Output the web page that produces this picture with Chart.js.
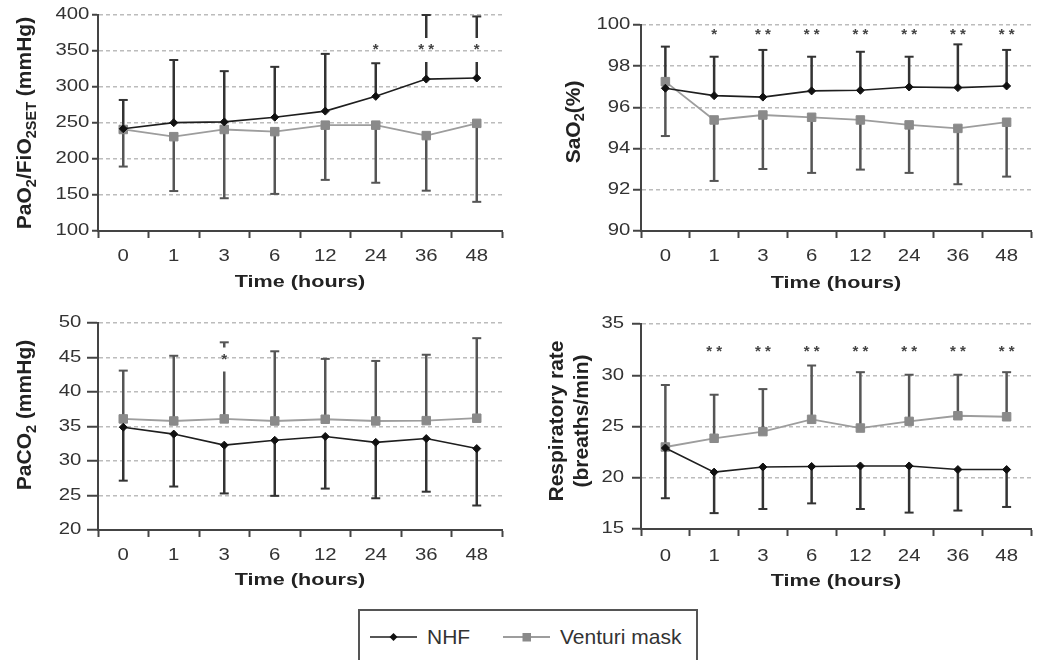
<!DOCTYPE html>
<html><head><meta charset="utf-8">
<script src="https://cdn.jsdelivr.net/npm/chart.js@4.4.1/dist/chart.umd.min.js"></script>
<style>
html,body{margin:0;padding:0;background:#fff;}
body{width:1038px;height:660px;position:relative;overflow:hidden;font-family:"Liberation Sans",Arial,sans-serif;}
canvas{position:absolute;}
#legend{position:absolute;left:358px;top:609px;width:336px;height:60px;border:2px solid #555;}
.lt{position:absolute;font-size:21px;line-height:24px;color:#333;white-space:nowrap;}
svg{position:absolute;}
</style></head><body>
<canvas id="c1" width="520" height="300" style="left:0;top:0;width:520px;height:300px"></canvas>
<canvas id="c2" width="518" height="300" style="left:520px;top:0;width:518px;height:300px"></canvas>
<canvas id="c3" width="520" height="300" style="left:0;top:300px;width:520px;height:300px"></canvas>
<canvas id="c4" width="518" height="300" style="left:520px;top:300px;width:518px;height:300px"></canvas>
<div id="legend"></div>
<svg style="left:368px;top:627px" width="54" height="20"><line x1="2" y1="10" x2="49" y2="10" stroke="#1e1e1e" stroke-width="1.6"/><polygon points="25.5,6 29.5,10 25.5,14 21.5,10" fill="#111"/></svg>
<div class="lt" style="left:427px;top:625px">NHF</div>
<svg style="left:501px;top:627px" width="54" height="20"><line x1="2" y1="10" x2="49" y2="10" stroke="#9d9d9d" stroke-width="1.8"/><rect x="21.5" y="6" width="8.5" height="8.5" fill="#8a8a8a"/></svg>
<div class="lt" style="left:560px;top:625px">Venturi mask</div>
<script>
// ---------- data ----------
const hours = ['0', '1', '3', '6', '12', '24', '36', '48'];

// PaO2/FiO2SET (mmHg)
const pafTicks = [100, 150, 200, 250, 300, 350, 400];
const pafNhf = [242, 250.5, 251.5, 258, 266.5, 287, 311, 312.5];
const pafNhfHigh = [282, 337.5, 322, 328, 346, 333, 400, 398];
const pafVent = [241, 231, 241, 238, 247, 247, 232.5, 249.5];
const pafVentLow = [189.5, 155.5, 145.5, 151.5, 171, 167, 156, 140.5];
const pafStars = ['', '', '', '', '', '*', '**', '*'];
const pafStarLevel = 357;

// SaO2 (%)
const saoTicks = [90, 92, 94, 96, 98, 100];
const saoNhf = [96.93, 96.57, 96.5, 96.8, 96.83, 96.99, 96.96, 97.04];
const saoNhfHigh = [98.95, 98.46, 98.79, 98.46, 98.7, 98.46, 99.06, 98.79];
const saoVent = [97.25, 95.39, 95.63, 95.52, 95.39, 95.15, 94.98, 95.28];
const saoVentLow = [94.61, 92.43, 93.01, 92.82, 92.98, 92.82, 92.27, 92.64];
const saoStars = ['', '*', '**', '**', '**', '**', '**', '**'];
const saoStarLevel = 99.72;

// PaCO2 (mmHg)
const pacTicks = [20, 25, 30, 35, 40, 45, 50];
const pacNhf = [34.9, 33.9, 32.3, 33.0, 33.55, 32.7, 33.25, 31.8];
const pacNhfLow = [27.15, 26.3, 25.3, 24.95, 26.0, 24.6, 25.55, 23.55];
const pacVent = [36.1, 35.8, 36.1, 35.8, 36.05, 35.8, 35.85, 36.2];
const pacVentHigh = [43.1, 45.25, 47.2, 45.9, 44.8, 44.5, 45.4, 47.8];
const pacStars = ['', '', '*', '', '', '', '', ''];
const pacStarLevel = 45.3;

// Respiratory rate (breaths/min)
const rrTicks = [15, 20, 25, 30, 35];
const rrNhf = [22.9, 20.55, 21.05, 21.1, 21.15, 21.15, 20.8, 20.8];
const rrNhfLow = [18.0, 16.55, 16.95, 17.5, 16.95, 16.6, 16.8, 17.15];
const rrVent = [23.0, 23.85, 24.5, 25.7, 24.85, 25.5, 26.05, 25.95];
const rrVentHigh = [29.05, 28.1, 28.65, 30.95, 30.3, 30.05, 30.05, 30.3];
const rrStars = ['', '**', '**', '**', '**', '**', '**', '**'];
const rrStarLevel = 32.73;

// ---------- text width tweak (small text drawn wider, like the source) ----------
const FONT = '"Liberation Sans", Arial, Helvetica, sans-serif';
let stretchOn = true;
const TEXT_SX = 1.27;
const _fill = CanvasRenderingContext2D.prototype.fillText;
CanvasRenderingContext2D.prototype.fillText = function (t, x, y, mw) {
  const m = /(\d+(?:\.\d+)?)px/.exec(this.font);
  const size = m ? parseFloat(m[1]) : 12;
  if (!stretchOn || size >= 19) {
    return mw === undefined ? _fill.call(this, t, x, y) : _fill.call(this, t, x, y, mw);
  }
  this.save();
  this.translate(x, y);
  this.scale(TEXT_SX, 1);
  _fill.call(this, t, 0, 0);
  this.restore();
};

Chart.defaults.font.family = FONT;

const NHF_COLOR = '#1e1e1e', VENT_LINE = '#9d9d9d', VENT_MARK = '#8a8a8a';

function makePanel(id, p) {
  const canvas = document.getElementById(id);
  const offX = parseFloat(canvas.style.left), offY = parseFloat(canvas.style.top);
  const decor = {
    id: 'decor' + id,
    beforeDatasetsDraw(chart) {
      const { ctx, scales: { x, y } } = chart;
      const sy = y.getPixelForValue(p.starLevel);
      p.bars.forEach(b => {
        ctx.save();
        ctx.strokeStyle = b.color;
        b.mean.forEach((m, i) => {
          const px = x.getPixelForValue(i);
          const a = y.getPixelForValue(m), e = y.getPixelForValue(b.end[i]);
          const top = Math.min(a, e), bot = Math.max(a, e);
          let segs = [[top, bot]];
          if (p.stars[i] && top < sy && bot > sy) segs = [[top, sy - 8], [sy + 16, bot]];
          ctx.lineWidth = 2.5;
          ctx.beginPath();
          segs.forEach(s => { if (s[1] > s[0]) { ctx.moveTo(px, s[0]); ctx.lineTo(px, s[1]); } });
          ctx.stroke();
          ctx.lineWidth = 2;
          ctx.beginPath();
          ctx.moveTo(px - 4.5, e); ctx.lineTo(px + 4.5, e);
          ctx.stroke();
        });
        ctx.restore();
      });
    },
    afterDraw(chart) {
      const { ctx, scales: { x, y } } = chart;
      ctx.save();
      stretchOn = false;
      // stars
      const sy = y.getPixelForValue(p.starLevel);
      ctx.font = 'bold 15px ' + FONT;
      ctx.fillStyle = '#444';
      ctx.textAlign = 'center';
      ctx.textBaseline = 'alphabetic';
      p.stars.forEach((s, i) => {
        const px = x.getPixelForValue(i);
        for (let k = 0; k < s.length; k++) {
          const dx = (k - (s.length - 1) / 2) * 10;
          ctx.fillText('*', px + dx, sy + 8.5);
        }
      });
      // y-axis title
      ctx.translate(0, p.title.cy - offY);
      ctx.rotate(-Math.PI / 2);
      ctx.fillStyle = '#222';
      ctx.textAlign = 'left';
      p.title.lines.forEach(line => {
        const ly = line.bx - offX;
        let w = 0;
        line.segs.forEach(s => {
          ctx.font = (s.sub ? 'bold 14.5px ' : 'bold 21px ') + FONT;
          s.w = ctx.measureText(s.t).width; w += s.w;
        });
        let lx = -w / 2;
        line.segs.forEach(s => {
          ctx.font = (s.sub ? 'bold 14.5px ' : 'bold 21px ') + FONT;
          ctx.fillText(s.t, lx, ly + (s.sub ? 4.5 : 0));
          lx += s.w;
        });
      });
      stretchOn = true;
      ctx.restore();
    }
  };
  return new Chart(canvas, {
    type: 'line',
    data: {
      labels: hours,
      datasets: [
        { label: 'NHF', data: p.nhf, borderColor: NHF_COLOR, backgroundColor: '#111', borderWidth: 1.6,
          pointStyle: 'rectRot', pointRadius: 4, pointBorderWidth: 1, pointBackgroundColor: '#111',
          pointBorderColor: '#111', tension: 0 },
        { label: 'Venturi mask', data: p.vent, borderColor: VENT_LINE, backgroundColor: VENT_MARK, borderWidth: 1.8,
          pointStyle: 'rect', pointRadius: 6, pointBorderWidth: 1, pointBackgroundColor: VENT_MARK,
          pointBorderColor: VENT_MARK, tension: 0 }
      ]
    },
    options: {
      responsive: false, animation: false, devicePixelRatio: 1,
      layout: { padding: { left: 0, top: p.top, right: p.right, bottom: 0 } },
      plugins: { legend: { display: false }, tooltip: { enabled: false } },
      scales: {
        x: {
          type: 'category', offset: true,
          grid: { display: true, drawOnChartArea: false, drawTicks: true, tickLength: 7,
                  tickColor: '#444', tickWidth: 2, offset: true },
          border: { display: true, color: '#444', width: 2 },
          ticks: { color: '#333', font: { size: 16 }, padding: p.xPad, autoSkip: false, maxRotation: 0 },
          title: { display: true, text: 'Time (hours)', color: '#222',
                   font: { size: 17, weight: 'bold' }, padding: { top: 0, bottom: p.titlePad } },
          afterFit: s => { s.height = p.xH; }
        },
        y: {
          min: p.ticks[0], max: p.ticks[p.ticks.length - 1],
          afterBuildTicks: s => { s.ticks = p.ticks.map(v => ({ value: v })); },
          grid: { color: c => c.index === 0 ? 'rgba(0,0,0,0)' : '#bcbcbc', lineWidth: 1.5,
                  drawTicks: true, tickLength: p.yTick, tickColor: '#444', tickWidth: 2, tickBorderDash: [] },
          border: { display: true, color: '#444', width: 2, dash: [4, 3] },
          ticks: { color: '#333', font: { size: 16 }, padding: p.yPad },
          afterFit: s => { s.width = p.yW; }
        }
      }
    },
    plugins: [decor]
  });
}

makePanel('c1', {
  nhf: pafNhf, vent: pafVent, ticks: pafTicks, stars: pafStars, starLevel: pafStarLevel,
  bars: [{ mean: pafVent, end: pafVentLow, color: '#555' }, { mean: pafNhf, end: pafNhfHigh, color: '#333' }],
  top: 15, right: 18, yW: 98, xH: 69, xPad: 9.4, titlePad: 7.3, yTick: 6, yPad: 2.7,
  title: { cy: 123, lines: [{ bx: 31, segs: [{ t: 'PaO' }, { t: '2', sub: true }, { t: '/FiO' }, { t: '2SET', sub: true }, { t: ' (mmHg)' }] }] }
});
makePanel('c2', {
  nhf: saoNhf, vent: saoVent, ticks: saoTicks, stars: saoStars, starLevel: saoStarLevel,
  bars: [{ mean: saoVent, end: saoVentLow, color: '#555' }, { mean: saoNhf, end: saoNhfHigh, color: '#333' }],
  top: 25, right: 0, yW: 121, xH: 69, xPad: 9.4, titlePad: 6.8, yTick: 8, yPad: 2.7,
  title: { cy: 122, lines: [{ bx: 579.5, segs: [{ t: 'SaO' }, { t: '2', sub: true }, { t: '(%)' }] }] }
});
makePanel('c3', {
  nhf: pacNhf, vent: pacVent, ticks: pacTicks, stars: pacStars, starLevel: pacStarLevel,
  bars: [{ mean: pacNhf, end: pacNhfLow, color: '#333' }, { mean: pacVent, end: pacVentHigh, color: '#555' }],
  top: 23, right: 18, yW: 98, xH: 70, xPad: 9.4, titlePad: 9.5, yTick: 11, yPad: 5.6,
  title: { cy: 415, lines: [{ bx: 31, segs: [{ t: 'PaCO' }, { t: '2', sub: true }, { t: ' (mmHg)' }] }] }
});
makePanel('c4', {
  nhf: rrNhf, vent: rrVent, ticks: rrTicks, stars: rrStars, starLevel: rrStarLevel,
  bars: [{ mean: rrNhf, end: rrNhfLow, color: '#333' }, { mean: rrVent, end: rrVentHigh, color: '#555' }],
  top: 24, right: 0, yW: 121, xH: 71, xPad: 11, titlePad: 8.1, yTick: 9, yPad: 8,
  title: { cy: 421, lines: [{ bx: 562.5, segs: [{ t: 'Respiratory rate' }] }, { bx: 588, segs: [{ t: '(breaths/min)' }] }] }
});
</script>
</body></html>
